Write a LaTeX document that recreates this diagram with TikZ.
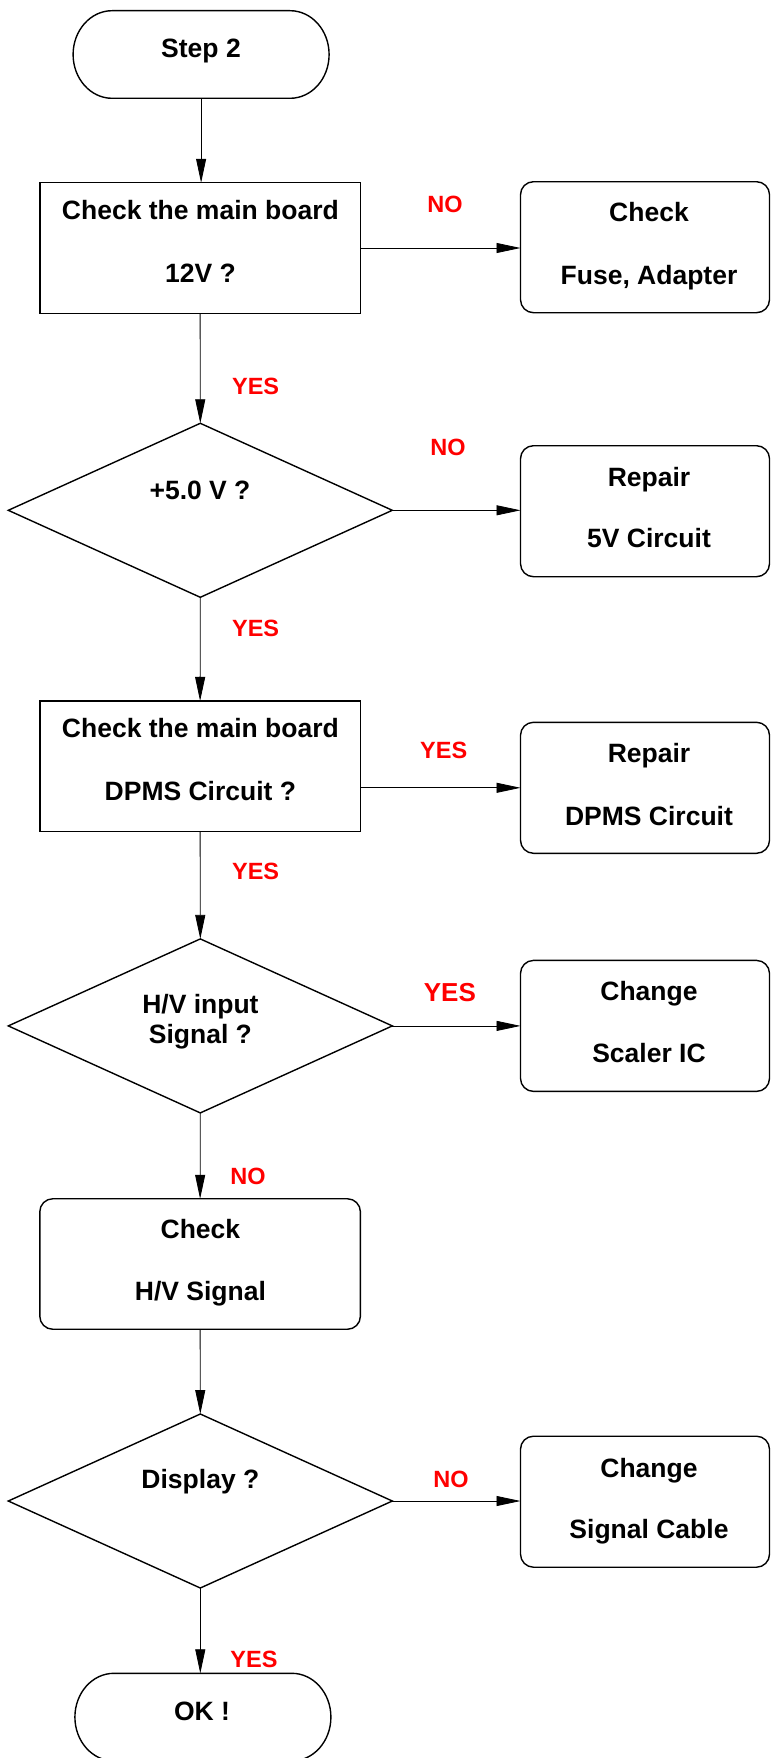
\documentclass[tikz,border=0pt]{standalone}
\usepackage{fontspec}
\setmainfont{Liberation Sans}
\usetikzlibrary{arrows.meta,shapes.geometric}

% terminal shape: flat top and bottom, half-ellipse ends
\newcommand\drawterminal[1]{%
  \draw[line width=1.4pt]
    ([xshift=39pt]#1.north west) -- ([xshift=-39pt]#1.north east)
    arc[start angle=90, end angle=-90, x radius=39pt, y radius=43.8pt]
    -- ([xshift=39pt]#1.south west)
    arc[start angle=270, end angle=90, x radius=39pt, y radius=43.8pt]
    -- cycle;}

\begin{document}
\begin{tikzpicture}[x=1pt, y=-1pt,
  term/.style={minimum width=256pt, minimum height=87.6pt, inner sep=0pt, outer sep=0pt},
  stepbox/.style={draw, line width=1.4pt, minimum width=320.6pt, minimum height=130.5pt, inner sep=0pt, outer sep=0pt},
  procbox/.style={stepbox, rounded corners=13pt},
  sidebox/.style={draw, line width=1.4pt, rounded corners=13pt, minimum width=249pt, minimum height=131pt, inner sep=0pt, outer sep=0pt},
  decision/.style={diamond, draw, line width=1.4pt, minimum width=384pt, minimum height=174pt, inner sep=0pt, outer sep=0pt},
  flow/.style={line width=0.8pt, -{Triangle[length=24pt, width=10pt]}},
  txt/.style={font=\fontsize{26.5}{30}\selectfont\bfseries, anchor=base, inner sep=0pt},
  lbl/.style={font=\fontsize{23.5}{28}\selectfont\bfseries, text=red, anchor=base, inner sep=0pt},
  biglbl/.style={lbl, font=\fontsize{26}{30}\selectfont\bfseries}]

\useasboundingbox (0,0) rectangle (771,1758);

% ---- shapes ----
\node[term] (start) at (201.1,54.5) {};
\drawterminal{start}
\node[stepbox] (chk12) at (200.1,248) {};
\node[sidebox] (fuse) at (645,247.2) {};
\node[decision] (d5v) at (200.3,510.3) {};
\node[sidebox] (rep5) at (645,511.2) {};
\node[stepbox] (chkdpms) at (200.1,766.2) {};
\node[sidebox] (repdpms) at (645,787.8) {};
\node[decision] (dhv) at (200.3,1025.9) {};
\node[sidebox] (scaler) at (645,1025.9) {};
\node[procbox] (chkhv) at (200.1,1264) {};
\node[decision] (ddisp) at (200.3,1501) {};
\node[sidebox] (cable) at (645,1501.7) {};
\node[term] (ok) at (202.9,1717.1) {};
\drawterminal{ok}

% ---- texts ----
\node[txt] (tstart) at (201,57.3) {Step 2};
\node[txt] (t12a) at (200.4,219.7) {Check the main board};
\node[txt] (t12b) at (200.4,282) {12V ?};
\node[txt] (tfa) at (649,221.7) {Check};
\node[txt] (tfb) at (649,284) {Fuse, Adapter};
\node[txt] (t5v) at (200,499) {+5.0 V ?};
\node[txt] (tr5a) at (649,486) {Repair};
\node[txt] (tr5b) at (649,547.7) {5V Circuit};
\node[txt] (tdpa) at (200.4,737) {Check the main board};
\node[txt] (tdpb) at (200.4,800) {DPMS Circuit ?};
\node[txt] (trda) at (649,762) {Repair};
\node[txt] (trdb) at (649,825) {DPMS Circuit};
\node[txt] (thva) at (200.4,1013) {H/V input};
\node[txt] (thvb) at (200.4,1043) {Signal ?};
\node[txt] (tsca) at (649,1000.5) {Change};
\node[txt] (tscb) at (649,1062.7) {Scaler IC};
\node[txt] (tcha) at (200.4,1238) {Check};
\node[txt] (tchb) at (200.4,1300) {H/V Signal};
\node[txt] (tdisp) at (200.4,1488) {Display ?};
\node[txt] (tcba) at (649,1477) {Change};
\node[txt] (tcbb) at (649,1538.3) {Signal Cable};
\node[txt] (tok) at (202,1720) {OK !};

% ---- connectors ----
\draw[flow] (start.south) -- (start.south |- chk12.north);
\draw[flow] (chk12.east) -- (chk12.east -| fuse.west);
\draw[flow] (chk12.south) -- (d5v.north);
\draw[flow] (d5v.east) -- (d5v.east -| rep5.west);
\draw[flow] (d5v.south) -- (chkdpms.north);
\draw[flow] (chkdpms.east |- repdpms.west) -- (repdpms.west);
\draw[flow] (chkdpms.south) -- (dhv.north);
\draw[flow] (dhv.east) -- (dhv.east -| scaler.west);
\draw[flow] (dhv.south) -- (chkhv.north);
\draw[flow] (chkhv.south) -- (ddisp.north);
\draw[flow] (ddisp.east) -- (ddisp.east -| cable.west);
\draw[flow] (ddisp.south) -- (ddisp.south |- ok.north);

% ---- branch labels ----
\node[lbl] (no1) at (445,212.7) {NO};
\node[lbl] (yes1) at (255.6,394) {YES};
\node[lbl] (no2) at (448,455) {NO};
\node[lbl] (yes2) at (255.6,636.7) {YES};
\node[lbl] (yes3) at (443.7,758.3) {YES};
\node[lbl] (yes4) at (255.6,879) {YES};
\node[biglbl] (yes5) at (449.9,1001.7) {YES};
\node[lbl] (no3) at (248,1184) {NO};
\node[lbl] (no4) at (451,1487.3) {NO};
\node[lbl] (yes6) at (254,1667.7) {YES};

\end{tikzpicture}
\end{document}
